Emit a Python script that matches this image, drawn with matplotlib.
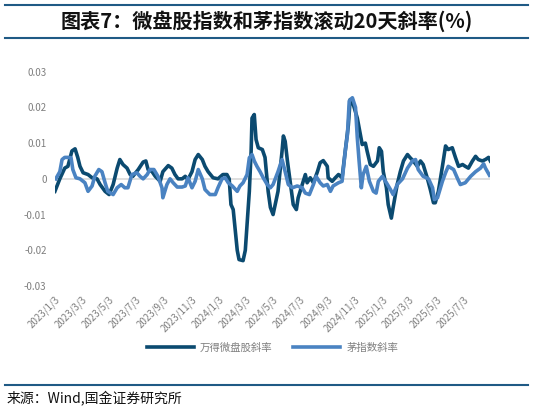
import pandas as pd
import matplotlib.pyplot as plt
from matplotlib.lines import Line2D

plt.rcParams['font.family'] = ['Noto Sans CJK SC', 'DejaVu Sans']

# 万得微盘股 rolling 20d slope
micro_dates = [
    "2023-01-03", "2023-01-14", "2023-01-25", "2023-02-01", "2023-02-10", "2023-02-17",
    "2023-02-23", "2023-02-28", "2023-03-07", "2023-03-18", "2023-03-27", "2023-04-07",
    "2023-04-14", "2023-04-25", "2023-05-04", "2023-05-13", "2023-05-22", "2023-05-28",
    "2023-06-04", "2023-06-13", "2023-06-20", "2023-06-26", "2023-07-08", "2023-07-19",
    "2023-07-25", "2023-07-30", "2023-08-08", "2023-08-15", "2023-08-26", "2023-09-01",
    "2023-09-13", "2023-09-21", "2023-09-28", "2023-10-05", "2023-10-14", "2023-10-21",
    "2023-10-27", "2023-11-05", "2023-11-12", "2023-11-19", "2023-11-28", "2023-12-04",
    "2023-12-11", "2023-12-22", "2024-01-02", "2024-01-13", "2024-01-22", "2024-01-27",
    "2024-01-31", "2024-02-05", "2024-02-09", "2024-02-14", "2024-02-18", "2024-02-27",
    "2024-03-03", "2024-03-07", "2024-03-12", "2024-03-16", "2024-03-18", "2024-03-23",
    "2024-03-27", "2024-04-01", "2024-04-10", "2024-04-16", "2024-04-23", "2024-04-28",
    "2024-05-04", "2024-05-15", "2024-05-24", "2024-05-27", "2024-05-31", "2024-06-05",
    "2024-06-11", "2024-06-18", "2024-06-25", "2024-06-29", "2024-07-08", "2024-07-15",
    "2024-07-19", "2024-07-26", "2024-08-02", "2024-08-11", "2024-08-17", "2024-08-24",
    "2024-09-02", "2024-09-04", "2024-09-13", "2024-09-20", "2024-09-27", "2024-10-05",
    "2024-10-12", "2024-10-19", "2024-10-23", "2024-10-30", "2024-11-08", "2024-11-12",
    "2024-11-19", "2024-11-26", "2024-11-30", "2024-12-07", "2024-12-14", "2024-12-23",
    "2024-12-27", "2025-01-01", "2025-01-05", "2025-01-12", "2025-01-16", "2025-01-23",
    "2025-01-27", "2025-02-05", "2025-02-12", "2025-02-19", "2025-02-28", "2025-03-06",
    "2025-03-13", "2025-03-22", "2025-03-29", "2025-04-04", "2025-04-13", "2025-04-20",
    "2025-04-27", "2025-05-01", "2025-05-08", "2025-05-17", "2025-05-24", "2025-05-30",
    "2025-06-08", "2025-06-15", "2025-06-22", "2025-07-01", "2025-07-07", "2025-07-14",
    "2025-07-23", "2025-07-30", "2025-08-05", "2025-08-14", "2025-08-21", "2025-08-28",
    "2025-09-01",
]
micro_slope = [
    -0.0035, 0.0, 0.003, 0.0035, 0.0078, 0.0084,
    0.006, 0.0035, 0.0017, 0.0012, 0.0003, 0.0,
    -0.0016, -0.0035, -0.0044, -0.0016, 0.003, 0.0054,
    0.004, 0.003, 0.0012, 0.0007, 0.0026, 0.0047,
    0.005, 0.0026, 0.002, 0.0007, -0.0007, 0.002,
    0.0037, 0.003, 0.0012, 0.0, 0.0, 0.0007,
    -0.0002, 0.002, 0.0054, 0.0068, 0.0054, 0.0035,
    0.002, 0.0003, 0.0, 0.0012, 0.0012, 0.0,
    -0.0072, -0.0086, -0.0137, -0.02, -0.0226, -0.0229,
    -0.02, -0.0128, -0.0035, 0.0077, 0.017, 0.018,
    0.011, 0.0087, 0.0082, 0.006, -0.0035, -0.008,
    -0.01, -0.0035, 0.0077, 0.012, 0.0105, 0.005,
    -0.0007, -0.0072, -0.0086, -0.0053, -0.0016, 0.0012,
    -0.0011, 0.0003, -0.0011, 0.002, 0.0045, 0.0051,
    0.0035, 0.0003, -0.0007, 0.0003, 0.0012, 0.0003,
    0.0077, 0.015, 0.0222, 0.0208, 0.017, 0.0143,
    0.0096, 0.01, 0.0077, 0.004, 0.0035, 0.005,
    0.0087, 0.0077, 0.002, -0.0025, -0.0072, -0.011,
    -0.008, -0.0016, 0.002, 0.005, 0.0068, 0.0059,
    0.005, 0.0035, 0.005, 0.004, 0.0003, -0.003,
    -0.0067, -0.0067, -0.0035, 0.0035, 0.0092, 0.0082,
    0.0087, 0.006, 0.0035, 0.004, 0.0035, 0.003,
    0.005, 0.0063, 0.0054, 0.005, 0.0054, 0.006,
    0.005,
]

# 茅指数 rolling 20d slope
mao_dates = [
    "2023-01-05", "2023-01-14", "2023-01-19", "2023-01-25", "2023-02-01", "2023-02-08",
    "2023-02-12", "2023-02-19", "2023-02-28", "2023-03-11", "2023-03-18", "2023-03-27",
    "2023-04-02", "2023-04-11", "2023-04-18", "2023-04-25", "2023-05-01", "2023-05-13",
    "2023-05-22", "2023-05-31", "2023-06-08", "2023-06-15", "2023-06-24", "2023-07-05",
    "2023-07-12", "2023-07-19", "2023-07-28", "2023-08-03", "2023-08-12", "2023-08-21",
    "2023-08-30", "2023-09-01", "2023-09-10", "2023-09-17", "2023-09-24", "2023-10-03",
    "2023-10-14", "2023-10-21", "2023-10-27", "2023-11-05", "2023-11-12", "2023-11-19",
    "2023-11-28", "2023-12-04", "2023-12-15", "2023-12-27", "2024-01-02", "2024-01-11",
    "2024-01-18", "2024-01-25", "2024-02-03", "2024-02-14", "2024-02-20", "2024-02-27",
    "2024-03-07", "2024-03-12", "2024-03-18", "2024-03-23", "2024-03-29", "2024-04-05",
    "2024-04-12", "2024-04-21", "2024-04-28", "2024-05-04", "2024-05-15", "2024-05-24",
    "2024-05-31", "2024-06-07", "2024-06-16", "2024-06-27", "2024-07-08", "2024-07-15",
    "2024-07-24", "2024-08-02", "2024-08-08", "2024-08-17", "2024-08-24", "2024-09-02",
    "2024-09-09", "2024-09-15", "2024-09-27", "2024-10-05", "2024-10-12", "2024-10-17",
    "2024-10-21", "2024-10-28", "2024-11-04", "2024-11-08", "2024-11-12", "2024-11-17",
    "2024-11-21", "2024-11-28", "2024-12-05", "2024-12-14", "2024-12-20", "2024-12-25",
    "2025-01-03", "2025-01-12", "2025-01-21", "2025-01-27", "2025-02-05", "2025-02-17",
    "2025-02-28", "2025-03-11", "2025-03-18", "2025-03-24", "2025-04-04", "2025-04-16",
    "2025-04-25", "2025-04-29", "2025-05-06", "2025-05-17", "2025-05-24", "2025-05-30",
    "2025-06-11", "2025-06-20", "2025-06-26", "2025-07-07", "2025-07-19", "2025-07-30",
    "2025-08-10", "2025-08-17", "2025-08-21", "2025-08-30",
]
mao_slope = [
    0.0, 0.002, 0.0054, 0.006, 0.006, 0.0059,
    0.0026, 0.0003, 0.0, -0.0011, -0.0035, -0.002,
    0.0007, 0.0026, 0.002, -0.0011, -0.0035, -0.0044,
    -0.0025, -0.0016, -0.0025, -0.0025, 0.0012, 0.0017,
    0.0007, 0.0, 0.0012, 0.0026, 0.0026, 0.0007,
    -0.0025, -0.0053, -0.0016, 0.0, -0.0011, -0.0023,
    -0.0023, -0.002, 0.0003, -0.0025, -0.0007, 0.0026,
    0.0, -0.003, -0.0044, -0.0044, -0.0025, 0.0,
    0.0003, -0.0011, -0.002, -0.0035, -0.002, -0.0011,
    0.0012, 0.0059, 0.0068, 0.005, 0.0035, 0.002,
    0.0003, -0.0016, -0.0025, -0.0016, 0.002, 0.0054,
    0.002, -0.0016, -0.0025, -0.002, -0.0025, -0.004,
    -0.0044, -0.0016, 0.0007, -0.0011, -0.002, -0.0016,
    -0.0035, -0.002, -0.0011, -0.0007, 0.0077, 0.0124,
    0.0218, 0.0227, 0.02, 0.0115, 0.005, -0.0025,
    0.0012, 0.0035, -0.0007, -0.0035, -0.004, -0.0007,
    0.0007, -0.0011, -0.003, -0.0044, -0.0016, 0.0,
    0.003, 0.005, 0.0054, 0.0026, 0.0007, 0.0,
    -0.0025, -0.0058, -0.0053, -0.0007, 0.0017, 0.0035,
    0.0026, 0.0, -0.0016, -0.0011, 0.0007, 0.002,
    0.003, 0.0042, 0.003, 0.001,
]

tick_labels = ["2023/1/3", "2023/3/3", "2023/5/3", "2023/7/3", "2023/9/3", "2023/11/3",
               "2024/1/3", "2024/3/3", "2024/5/3", "2024/7/3", "2024/9/3", "2024/11/3",
               "2025/1/3", "2025/3/3", "2025/5/3", "2025/7/3"]
y_ticks = [-0.03, -0.02, -0.01, 0, 0.01, 0.02, 0.03]
y_labels = ["-0.03", "-0.02", "-0.01", "0", "0.01", "0.02", "0.03"]

dark = "#0b4a70"
light = "#4a83c2"
rule = "#1f5a85"
grey = "#7f7f7f"

fig = plt.figure(figsize=(5.33, 4.13), dpi=100)

# title between two rules
fig.add_artist(Line2D([0.01, 0.99], [0.988, 0.988], color=rule, lw=1.5))
fig.add_artist(Line2D([0.01, 0.99], [0.908, 0.908], color=rule, lw=1.5))
fig.text(0.5, 0.948, "图表7：微盘股指数和茅指数滚动20天斜率(%)", ha="center", va="center",
         fontsize=14.5, fontweight="bold", style="italic", color="#111111")

ax = fig.add_axes([0.103, 0.3075, 0.817, 0.519])
ax.plot(pd.to_datetime(micro_dates), micro_slope, color=dark, lw=2.6, label="万得微盘股斜率", zorder=3)
ax.plot(pd.to_datetime(mao_dates), mao_slope, color=light, lw=2.6, label="茅指数斜率", zorder=4)
ax.axhline(0, color="#d9d9d9", lw=1.2, zorder=1)

ax.set_ylim(-0.03, 0.03)
ax.set_yticks(y_ticks)
ax.set_yticklabels(y_labels)
ax.set_xlim(pd.Timestamp("2023-01-03"), pd.Timestamp("2025-09-01"))
ticks = pd.to_datetime(tick_labels, format="%Y/%m/%d")
ax.set_xticks(ticks)
ax.set_xticklabels(tick_labels, rotation=45, ha="right", rotation_mode="anchor")
ax.tick_params(axis="both", length=0, labelsize=7, colors=grey, pad=6)
for s in ax.spines.values():
    s.set_visible(False)

ax.legend(loc="upper center", bbox_to_anchor=(0.5, -0.22), ncol=2, frameon=False,
          fontsize=7.5, labelcolor=grey, handlelength=4.5, columnspacing=2.0, handletextpad=0.6)

fig.add_artist(Line2D([0.01, 0.99], [0.068, 0.068], color=rule, lw=1.5))
fig.text(0.012, 0.036, "来源：Wind,国金证券研究所", ha="left", va="center", fontsize=10, color="#111111")

fig.savefig("out.png", dpi=100)
